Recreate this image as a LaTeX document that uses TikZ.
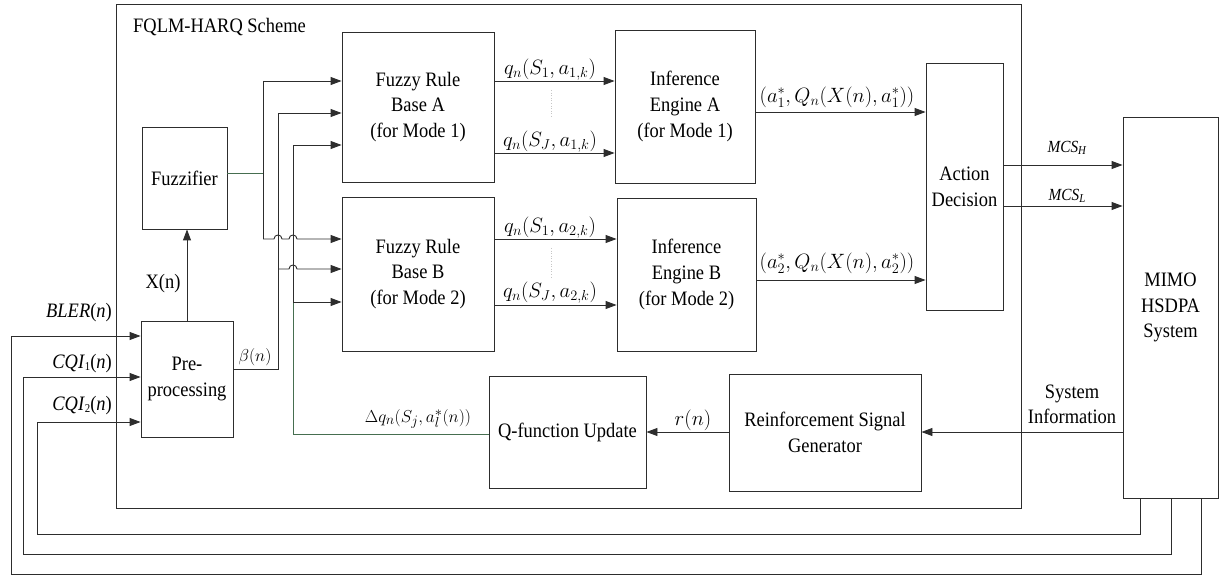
\documentclass[tikz,border=0pt]{standalone}
\usepackage{fontspec}
\setmainfont{Liberation Serif}[FakeStretch=0.9]
\usetikzlibrary{arrows.meta}
\definecolor{ln}{RGB}{45,45,45}
\definecolor{gl}{RGB}{70,110,80}
\newcommand{\subtx}[1]{\raisebox{-1.5pt}{\fontsize{12}{12}\selectfont #1}}
\begin{document}
\begin{tikzpicture}[x=1pt,y=-1pt,
  box/.style={draw=ln, line width=0.9pt, inner sep=0pt, align=center, font=\rmfamily\fontsize{20.5}{25.7}\selectfont},
  conn/.style={draw=ln, line width=0.9pt},
  arr/.style={conn, -{Triangle[length=11pt,width=8pt]}},
  lbl/.style={font=\rmfamily\fontsize{20.5}{25}\selectfont, inner sep=0pt, align=center},
  mlbl/.style={font=\rmfamily\fontsize{19}{24}\selectfont, inner sep=0pt},
  blbl/.style={font=\rmfamily\fontsize{21}{24}\selectfont, inner sep=0pt},
  slbl/.style={font=\rmfamily\fontsize{17}{19}\selectfont, inner sep=0pt},
  dots/.style={draw=gray!45, dotted, line width=0.6pt}
]
\useasboundingbox (0,0) rectangle (1220,577);

% frame
\node[draw=ln, line width=0.9pt, minimum width=905pt, minimum height=504pt, inner sep=0pt] (frame) at (568.5,256) {};
\node[lbl, anchor=west] (scheme) at (133,27) {FQLM-HARQ Scheme};

% boxes
\node[box, minimum width=85pt, minimum height=102pt] (fuzz) at (184.5,178) {Fuzzifier};
\node[box, minimum width=92pt, minimum height=116pt] (pre) at (187,379) {Pre-\\processing};
\node[box, minimum width=152pt, minimum height=150pt] (ruleA) at (418,107) {Fuzzy Rule\\Base A\\(for Mode 1)};
\node[box, minimum width=152pt, minimum height=154pt] (ruleB) at (418,274) {Fuzzy Rule\\Base B\\(for Mode 2)};
\node[box, minimum width=140pt, minimum height=153pt] (infA) at (685,106.5) {Inference\\Engine A\\(for Mode 1)};
\node[box, minimum width=139pt, minimum height=153pt] (infB) at (686.5,274.5) {Inference\\Engine B\\(for Mode 2)};
\node[box, minimum width=77pt, minimum height=247pt] (act) at (964.5,186.5) {Action\\Decision};
\node[box, minimum width=95pt, minimum height=381pt] (mimo) at (1170.5,307.5) {MIMO\\HSDPA\\System};
\node[box, minimum width=157pt, minimum height=112pt] (qup) at (567.5,432) {Q-function Update};
\node[box, minimum width=192pt, minimum height=117pt] (rsg) at (825,432.5) {Reinforcement Signal\\Generator};

% fuzzifier output
\draw[conn, draw=gl] (fuzz.east |- 0,173) -- (263,173);
\draw[conn] (263,81) -- (263,239);
\draw[arr] (263,81) -- (ruleA.west |- 0,81);
\draw[arr] (263,239) -- (274,239) .. controls (274,233.7) and (282,233.7) .. (282,239)
  -- (289,239) .. controls (289,233.7) and (297,233.7) .. (297,239) -- (ruleB.west |- 0,239);

% beta(n)
\draw[conn] (pre.east |- 0,369) -- (278,369) -- (278,113);
\draw[arr] (278,113) -- (ruleA.west |- 0,113);
\draw[arr] (278,269) -- (289,269) .. controls (289,263.7) and (297,263.7) .. (297,269) -- (ruleB.west |- 0,269);

% Q-function update feedback
\draw[conn, draw=gl] (qup.west |- 0,434) -- (293,434) -- (293,302);
\draw[conn] (293,302) -- (293,145);
\draw[arr] (293,145) -- (ruleA.west |- 0,145);
\draw[arr] (293,302) -- (ruleB.west |- 0,302);

% X(n)
\draw[arr] (pre.north) -- (pre.north |- fuzz.south);

% rule base -> inference
\draw[arr] (ruleA.east |- 0,81) -- (infA.west |- 0,81);
\draw[arr] (ruleA.east |- 0,153) -- (infA.west |- 0,153);
\draw[arr] (ruleB.east |- 0,239) -- (infB.west |- 0,239);
\draw[arr] (ruleB.east |- 0,305) -- (infB.west |- 0,305);
\draw[dots] (551,90) -- (551,118);
\draw[dots] (551,248) -- (551,277);

% inference -> action
\draw[arr] (infA.east |- 0,112) -- (act.west |- 0,112);
\draw[arr] (infB.east |- 0,280) -- (act.west |- 0,280);

% action -> MIMO
\draw[arr] (act.east |- 0,165) -- (mimo.west |- 0,165);
\draw[arr] (act.east |- 0,206) -- (mimo.west |- 0,206);

% system information and reinforcement
\draw[arr] (mimo.west |- 0,432) -- (rsg.east |- 0,432);
\draw[arr] (rsg.west |- 0,432) -- (qup.east |- 0,432);

% feedback loops
\draw[arr] (mimo.south -| 1140,0) -- (1140,534) -- (37,534) -- (37,422) -- (pre.west |- 0,422);
\draw[arr] (mimo.south -| 1171,0) -- (1171,554) -- (23,554) -- (23,377) -- (pre.west |- 0,377);
\draw[arr] (mimo.south -| 1201,0) -- (1201,574) -- (11,574) -- (11,336) -- (pre.west |- 0,336);

% labels
\node[lbl, anchor=east] (lbler) at (112,313) {\textit{BLER}(\textit{n})};
\node[lbl, anchor=east] (lcqi1) at (112,364) {\textit{CQI}\subtx{1}(\textit{n})};
\node[lbl, anchor=east] (lcqi2) at (112,406) {\textit{CQI}\subtx{2}(\textit{n})};
\node[lbl] (lx) at (163,284) {X(n)};
\node[mlbl] (lbeta) at (255,357) {$\beta(n)$};
\node[mlbl] (ldq) at (418,419) {$\Delta q_n(S_j, a_l^*(n))$};
\node[blbl] (lr) at (693,420) {$r(n)$};
\node[lbl] (lsys) at (1072,404) {System\\Information};
\node[slbl] (lmh) at (1067,148) {\textit{MCS}\subtx{\textit{H}}};
\node[slbl] (lml) at (1067,196) {\textit{MCS}\subtx{\textit{L}}};
\node[blbl] (lq1) at (550,70) {$q_n(S_1,a_{1,k})$};
\node[blbl] (lq2) at (550,142) {$q_n(S_J,a_{1,k})$};
\node[blbl] (lq3) at (550,228) {$q_n(S_1,a_{2,k})$};
\node[blbl] (lq4) at (550,293) {$q_n(S_J,a_{2,k})$};
\node[blbl] (la1) at (837,97) {$\Bigl(a_1^*,Q_n\Bigl(X(n),a_1^*\Bigr)\Bigr)$};
\node[blbl] (la2) at (837,263) {$\Bigl(a_2^*,Q_n\Bigl(X(n),a_2^*\Bigr)\Bigr)$};
\end{tikzpicture}
\end{document}
